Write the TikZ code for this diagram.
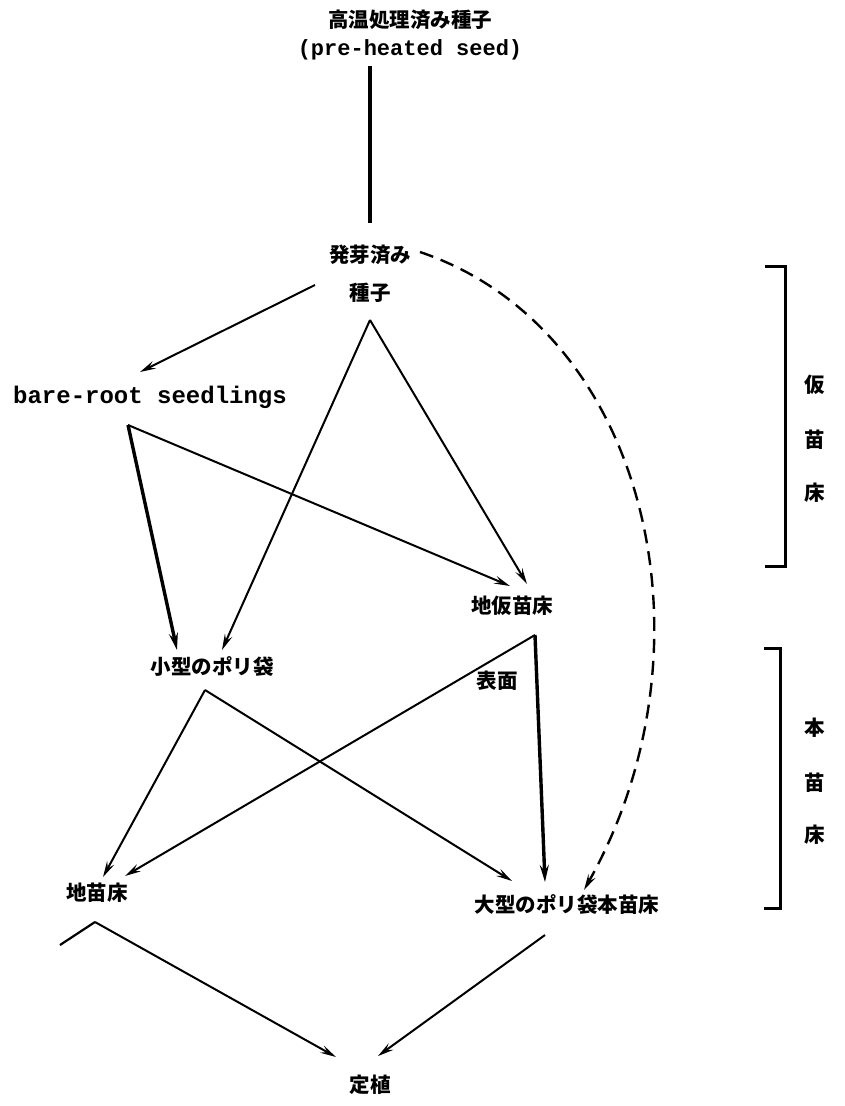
\documentclass[tikz,border=0pt]{standalone}
\usepackage{fontspec}
\newfontfamily\jp{Noto Sans CJK JP}
\newfontfamily\en{Liberation Mono}
\usetikzlibrary{arrows.meta}
\tikzset{
  jt/.style={inner sep=0pt, font=\jp\bfseries\fontsize{20.5}{24}\selectfont},
  et/.style={inner sep=0pt, font=\en\bfseries\fontsize{22}{24}\selectfont},
  thinarr/.style={line width=2pt, -{Stealth[length=16pt,width=8pt,inset=6pt]}},
  thickarr/.style={line width=3.4pt, -{Stealth[length=17pt,width=9pt,inset=6pt]}},
  bracket/.style={line width=3pt},
}
\begin{document}
\begin{tikzpicture}[x=1pt,y=-1pt]
\useasboundingbox (0,0) rectangle (844,1106);
% nodes
\node[jt] (title) at (410,20) {高温処理済み種子};
\node[et] (titleen) at (410,50) {(pre-heated seed)};
\node[jt] (germ1) at (370,255) {発芽済み};
\node[jt] (germ2) at (370,293) {種子};
\node[et, font=\en\bfseries\fontsize{24}{26}\selectfont] (bare) at (150,397) {bare-root seedlings};
\node[jt] (tempbed) at (512,606) {地仮苗床};
\node[jt] (small) at (212,666) {小型のポリ袋};
\node[jt] (surface) at (497,681) {表面};
\node[jt] (bed) at (97,893) {地苗床};
\node[jt] (large) at (567,905) {大型のポリ袋本苗床};
\node[jt] (plant) at (370,1085) {定植};
\node[jt] (k1) at (815,385) {仮};
\node[jt] (k2) at (815,440) {苗};
\node[jt] (k3) at (815,493) {床};
\node[jt] (h1) at (815,728) {本};
\node[jt] (h2) at (815,783) {苗};
\node[jt] (h3) at (815,835) {床};
% coordinates
\coordinate (topS) at (370,66);
\coordinate (topE) at (370,223);
\coordinate (gL) at (315,285);
\coordinate (gB) at (370,320);
\coordinate (gR) at (420,252);
\coordinate (bareT) at (140,372);
\coordinate (bareB) at (128,425);
\coordinate (smallT) at (222,650);
\coordinate (smallT2) at (177,650);
\coordinate (smallB) at (205,690);
\coordinate (tempT) at (527,584);
\coordinate (tempT2) at (510,586);
\coordinate (tempB) at (535,635);
\coordinate (bedT) at (103,877);
\coordinate (bedT2) at (125,876);
\coordinate (largeT) at (545,882);
\coordinate (largeT2) at (512,881);
\coordinate (largeT3) at (584,890);
\coordinate (chevL) at (60,945);
\coordinate (chevP) at (95,922);
\coordinate (largeB) at (545,935);
\coordinate (plantL) at (336,1057);
\coordinate (plantR) at (378,1056);
% connectors
\draw[line width=3.4pt] (topS) -- (topE);
\draw[thinarr] (gL) -- (bareT);
\draw[thinarr] (gB) -- (smallT);
\draw[thinarr] (gB) -- (tempT);
\draw[thickarr] (bareB) -- (smallT2);
\draw[thinarr] (bareB) -- (tempT2);
\draw[line width=2.4pt, dash pattern=on 14pt off 8pt, -{Stealth[length=16pt,width=8pt,inset=6pt]}]
  (gR) .. controls (650,330) and (720,650) .. (largeT3);
\draw[thickarr] (tempB) -- (largeT);
\draw[thinarr] (tempB) -- (bedT2);
\draw[thinarr] (smallB) -- (bedT);
\draw[thinarr] (smallB) -- (largeT2);
\draw[line width=2.2pt] (chevL) -- (chevP);
\draw[thinarr] (chevP) -- (plantL);
\draw[thinarr] (largeB) -- (plantR);
% brackets
\draw[bracket] (765,266) -- (785,266) -- (785,566) -- (765,566);
\draw[bracket] (764,648) -- (780,648) -- (780,908) -- (764,908);
\end{tikzpicture}
\end{document}
